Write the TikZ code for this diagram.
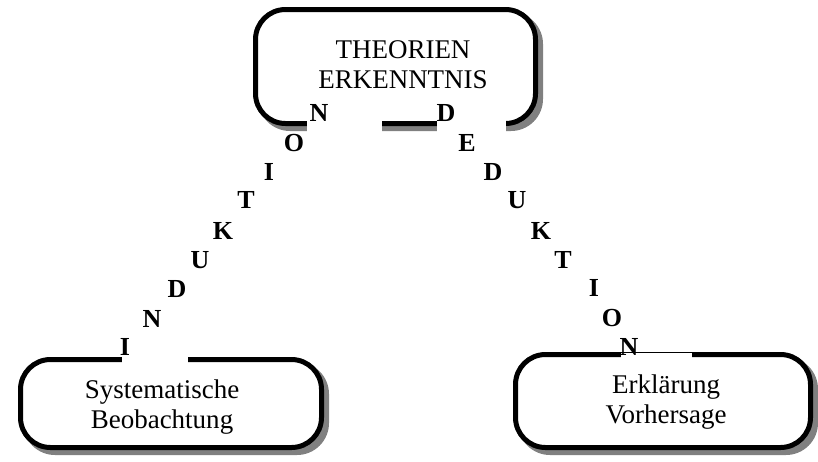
\documentclass[tikz,border=0pt]{standalone}
\usepackage{fontspec}
\setmainfont{Liberation Serif}
\usetikzlibrary{backgrounds}

\tikzset{
	kasten/.style={draw, line width=5pt, rounded corners=30pt, fill=white},
	schatten/.style={fill=black!50, rounded corners=32pt},
	kastentext/.style={align=center, inner sep=0pt, font=\fontsize{27}{30}\selectfont},
	buchstabe/.style={anchor=base, inner sep=0pt, font=\bfseries\fontsize{26}{26}\selectfont},
	luecke/.style={fill=white}
}

\begin{document}
\begin{tikzpicture}[x=1pt,y=-1pt]
	\useasboundingbox (0,0) rectangle (818,461);
	% Kaesten
	\node[kasten, minimum width=280pt, minimum height=114pt] (theorie) at (395.5,66.5) {};
	\node[kasten, minimum width=301pt, minimum height=88pt] (beobachtung) at (171,403.5) {};
	\node[kasten, minimum width=295pt, minimum height=93pt] (erklaerung) at (663,401) {};
	\begin{scope}[on background layer]
		\fill[schatten] ([shift={(5pt,-5pt)}]theorie.south west) rectangle ([shift={(5pt,-5pt)}]theorie.north east);
		\fill[schatten] ([shift={(5pt,-5pt)}]beobachtung.south west) rectangle ([shift={(5pt,-5pt)}]beobachtung.north east);
		\fill[schatten] ([shift={(5pt,-5pt)}]erklaerung.south west) rectangle ([shift={(5pt,-5pt)}]erklaerung.north east);
	\end{scope}
	\node[kastentext] (theorietext) at (403,65) {THEORIEN\\ERKENNTNIS};
	\node[kastentext] (beobtext) at (162,407) {Systematische\\Beobachtung};
	\node[kastentext] (erkltext) at (666,402) {Erklärung\\Vorhersage};
	% Luecken im Rand
	\fill[luecke] (307,118) rectangle (382,133);
	\fill[luecke] (437,118) rectangle (506,133);
	\fill[luecke] (122,354) rectangle (188,364);
	\fill[luecke] (621,353.4) rectangle (692,359);
	% Induktion
	\node[buchstabe] (i1) at (125,355) {I};
	\node[buchstabe] (i2) at (152,327) {N};
	\node[buchstabe] (i3) at (177,297) {D};
	\node[buchstabe] (i4) at (200,268) {U};
	\node[buchstabe] (i5) at (223,239) {K};
	\node[buchstabe] (i6) at (246,208) {T};
	\node[buchstabe] (i7) at (269,180) {I};
	\node[buchstabe] (i8) at (294,151) {O};
	\node[buchstabe] (i9) at (319,121) {N};
	% Deduktion
	\node[buchstabe] (d1) at (446,121) {D};
	\node[buchstabe] (d2) at (467,151) {E};
	\node[buchstabe] (d3) at (493,180) {D};
	\node[buchstabe] (d4) at (517,208) {U};
	\node[buchstabe] (d5) at (541,239) {K};
	\node[buchstabe] (d6) at (563,268) {T};
	\node[buchstabe] (d7) at (594,296) {I};
	\node[buchstabe] (d8) at (612,326) {O};
	\node[buchstabe] (d9) at (629,355) {N};
\end{tikzpicture}
\end{document}
